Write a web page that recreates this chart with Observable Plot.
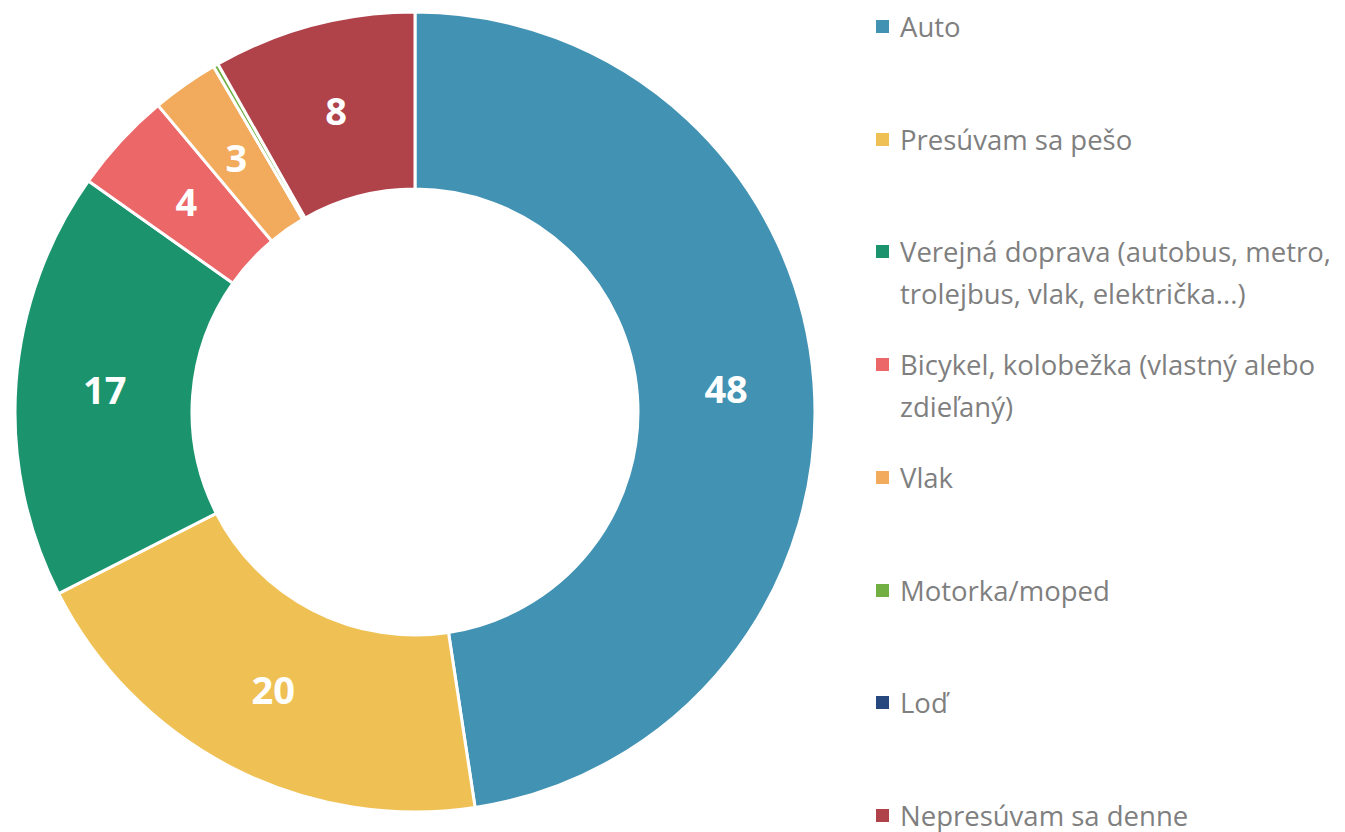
<!DOCTYPE html>
<html>
<head>
<meta charset="utf-8">
<script src="https://cdn.jsdelivr.net/npm/d3@7"></script>
<script src="https://cdn.jsdelivr.net/npm/@observablehq/plot@0.6"></script>
<style>
  html, body { margin: 0; padding: 0; background: #fff; }
  #wrap { position: relative; width: 1345px; height: 832px; overflow: hidden; }
  #chart { position: absolute; left: 0; top: 0; }
  .item { position: absolute; left: 876px; width: 469px; font-family: "Open Sans", Lato, sans-serif; font-size: 27.5px; line-height: 42px; color: #7f7f7f; }
  .sw { position: absolute; left: 0; top: 14px; width: 13px; height: 13px; }
  .lbl { position: absolute; left: 24px; top: 0; width: 445px; }
</style>
</head>
<body>
<div id="wrap"><div id="chart"></div><div id="legend"></div></div>
<script>
const categories = [
  "Auto",
  "Presúvam sa pešo",
  "Verejná doprava (autobus, metro, trolejbus, vlak, električka...)",
  "Bicykel, kolobežka (vlastný alebo zdieľaný)",
  "Vlak",
  "Motorka/moped",
  "Loď",
  "Nepresúvam sa denne"
];
const values = [47.6, 19.9, 17.3, 4.1, 2.7, 0.2, 0, 8.2];
const colors = ["#4292b3", "#efc155", "#1b946e", "#ec6768", "#f2ab5d", "#72b043", "#27477f", "#b0424a"];
const innerRatio = 0.5575;

const pie = d3.pie().sort(null).value(d => d.value);
const data = categories.map((c, i) => ({category: c, value: values[i], color: colors[i]}));
const arcs = pie(data);

const labelRadius = (1 + innerRatio) / 2;
const labels = arcs
  .filter(a => Math.round(a.data.value) > 0)
  .map(a => {
    const m = (a.startAngle + a.endAngle) / 2;
    return {x: labelRadius * Math.sin(m), y: -labelRadius * Math.cos(m), text: String(Math.round(a.data.value))};
  });

const donut = (index, scales, vals, dimensions, context) => {
  const cx = scales.x(0), cy = scales.y(0);
  const R = scales.x(1) - cx;
  const r = R * innerRatio;
  const arc = d3.arc().innerRadius(r).outerRadius(R);
  const g = d3.create("svg:g").attr("transform", `translate(${cx},${cy})`);
  g.selectAll("path").data(arcs.filter(a => a.data.value > 0)).join("path")
    .attr("d", arc)
    .attr("fill", d => d.data.color)
    .attr("stroke", "white")
    .attr("stroke-width", 3)
    .attr("stroke-linejoin", "miter");
  return g.node();
};

const chart = Plot.plot({
  width: 860,
  height: 832,
  margin: 0,
  x: {domain: [-1, 1], range: [15, 815], axis: null},
  y: {domain: [-1, 1], range: [12, 812], axis: null},
  style: {background: "transparent"},
  marks: [
    donut,
    Plot.text(labels, {
      x: "x", y: "y", text: "text",
      fill: "white",
      fontSize: 38,
      fontWeight: "bold",
      fontFamily: "'Open Sans', Lato, sans-serif",
      textAnchor: "middle",
      dy: 2
    })
  ]
});
document.getElementById("chart").appendChild(chart);

const legend = document.getElementById("legend");
categories.forEach((c, i) => {
  const item = document.createElement("div");
  item.className = "item";
  item.style.top = (27 + i * 112.7 - 21) + "px";
  const sw = document.createElement("div");
  sw.className = "sw";
  sw.style.background = colors[i];
  const lbl = document.createElement("div");
  lbl.className = "lbl";
  lbl.textContent = c;
  item.appendChild(sw);
  item.appendChild(lbl);
  legend.appendChild(item);
});
</script>
</body>
</html>
